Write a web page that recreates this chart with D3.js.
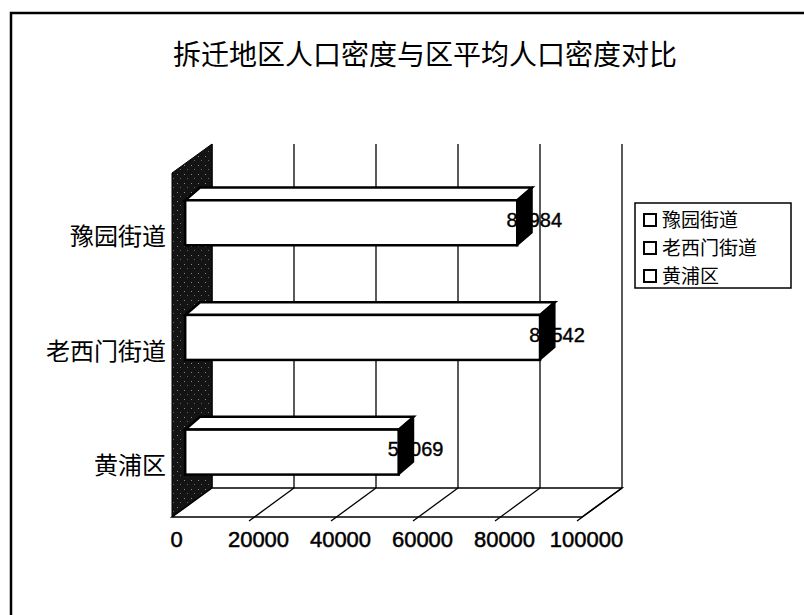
<!DOCTYPE html>
<html>
<head>
<meta charset="utf-8">
<script src="https://cdn.jsdelivr.net/npm/d3@7"></script>
<style>
  body { margin: 0; background: #fff; }
  svg { display: block; }
</style>
</head>
<body>
<div id="chart"></div>
<script>
const title = "拆迁地区人口密度与区平均人口密度对比";
const categories = ["豫园街道", "老西门街道", "黄浦区"];
const values = [80984, 86542, 52069];
const tickValues = [0, 20000, 40000, 60000, 80000, 100000];

const W = 804, H = 615;
const svg = d3.select("#chart").append("svg").attr("width", W).attr("height", H);

// front plane of the 3d box and depth vector
const x = d3.scaleLinear().domain([0, 100000]).range([172, 582]);
const y = d3.scaleBand().domain(categories).range([173, 517]);
const floorY = 517, topY = 173;
const dx = 40, dy = -29;
const fontCJK = "'Noto Sans CJK SC', sans-serif";
const fontNum = "'Liberation Sans', Arial, sans-serif";

// outer border (runs off the right and bottom)
svg.append("path").attr("d", `M11,${H + 2}V13H${W + 2}`)
  .attr("fill", "none").attr("stroke", "#000").attr("stroke-width", 2.5);

svg.append("text").attr("x", 425).attr("y", 55).attr("dy", "0.36em")
  .attr("text-anchor", "middle")
  .attr("font-family", fontCJK).attr("font-size", 28).text(title);

// speckle pattern for the dark side wall
const defs = svg.append("defs");
const pat = defs.append("pattern").attr("id", "wall").attr("patternUnits", "userSpaceOnUse")
  .attr("width", 7).attr("height", 9);
pat.append("rect").attr("width", 7).attr("height", 9).attr("fill", "#141414");
pat.append("rect").attr("x", 2).attr("y", 3).attr("width", 1).attr("height", 1).attr("fill", "#888");
pat.append("rect").attr("x", 5).attr("y", 7).attr("width", 1).attr("height", 1).attr("fill", "#666");

// back wall gridlines
svg.append("g").selectAll("line").data(tickValues).join("line")
  .attr("x1", d => x(d) + dx).attr("x2", d => x(d) + dx)
  .attr("y1", topY + dy).attr("y2", floorY + dy)
  .attr("stroke", "#000").attr("stroke-width", 1.3);

// left side wall
svg.append("path")
  .attr("d", `M${x(0)},${topY}L${x(0) + dx},${topY + dy}L${x(0) + dx},${floorY + dy}L${x(0)},${floorY}Z`)
  .attr("fill", "url(#wall)").attr("stroke", "#000");

// floor
svg.append("path")
  .attr("d", `M${x(0)},${floorY}L${x(0) + dx},${floorY + dy}L${x(100000) + dx},${floorY + dy}L${x(100000)},${floorY}Z`)
  .attr("fill", "#fff").attr("stroke", "#000").attr("stroke-width", 1.5);
svg.append("g").selectAll("line").data(tickValues.slice(1)).join("line")
  .attr("x1", d => x(d) + dx).attr("y1", floorY + dy)
  .attr("x2", d => x(d) - 5).attr("y2", floorY + 4)
  .attr("stroke", "#000").attr("stroke-width", 1.3);

// bars (front face sits part way into the depth)
const f0 = 0.33, f1 = 0.7;
const bh = 45;
const bx = d => x(0) + dx * f0;
const bw = (d, i) => x(values[i]) - x(0);
const by = d => y(d) + y.bandwidth() / 2 + dy * f0 - bh / 2 + 2;
const ddx = dx * (f1 - f0), ddy = dy * (f1 - f0) - 2;

const bars = svg.append("g").selectAll("g").data(categories).join("g");
bars.append("path") // top face
  .attr("d", (d, i) => {
    const x0 = bx(d), x1 = x0 + bw(d, i), y0 = by(d);
    return `M${x0},${y0}L${x0 + ddx},${y0 + ddy}L${x1 + ddx},${y0 + ddy}L${x1},${y0}Z`;
  })
  .attr("fill", "#fff").attr("stroke", "#000").attr("stroke-width", 2.5);
bars.append("rect") // front face
  .attr("x", bx).attr("y", by).attr("width", bw).attr("height", bh)
  .attr("fill", "#fff").attr("stroke", "#000").attr("stroke-width", 2.5);
bars.append("path") // right face
  .attr("d", (d, i) => {
    const x1 = bx(d) + bw(d, i), y0 = by(d);
    return `M${x1},${y0}L${x1 + ddx},${y0 + ddy}L${x1 + ddx},${y0 + bh + ddy}L${x1},${y0 + bh}Z`;
  })
  .attr("fill", "#000").attr("stroke", "#000").attr("stroke-width", 1.5);

// data labels
bars.append("text")
  .attr("x", (d, i) => bx(d) + bw(d, i) + 17)
  .attr("y", d => by(d) + bh / 2 - 3).attr("dy", "0.36em")
  .attr("text-anchor", "middle")
  .attr("font-family", fontNum).attr("font-size", 20)
  .attr("stroke", "#000").attr("stroke-width", 0.4)
  .text((d, i) => values[i]);

// category labels
svg.append("g").selectAll("text").data(categories).join("text")
  .attr("x", 166).attr("y", d => y(d) + y.bandwidth() / 2 + 6).attr("dy", "0.36em")
  .attr("text-anchor", "end")
  .attr("font-family", fontCJK).attr("font-size", 24).text(d => d);

// value axis
const axis = svg.append("g").attr("transform", `translate(4,${floorY})`)
  .call(d3.axisBottom(x).tickValues(tickValues).tickSize(0).tickPadding(14).tickFormat(d3.format("d")));
axis.select(".domain").remove();
axis.selectAll("text").attr("font-family", fontNum).attr("font-size", 22)
  .attr("fill", "#000").attr("stroke", "#000").attr("stroke-width", 0.5);

// legend
const lg = svg.append("g").attr("transform", "translate(635,203)");
lg.append("rect").attr("width", 156).attr("height", 85)
  .attr("fill", "#fff").attr("stroke", "#000").attr("stroke-width", 1.5);
const items = lg.selectAll("g").data(categories).join("g")
  .attr("transform", (d, i) => `translate(0,${17 + i * 28})`);
items.append("rect").attr("x", 9).attr("y", -6).attr("width", 12).attr("height", 12)
  .attr("fill", "#fff").attr("stroke", "#000").attr("stroke-width", 2);
items.append("text").attr("x", 27).attr("y", 0).attr("dy", "0.36em")
  .attr("font-family", fontCJK).attr("font-size", 19).text(d => d);
</script>
</body>
</html>
